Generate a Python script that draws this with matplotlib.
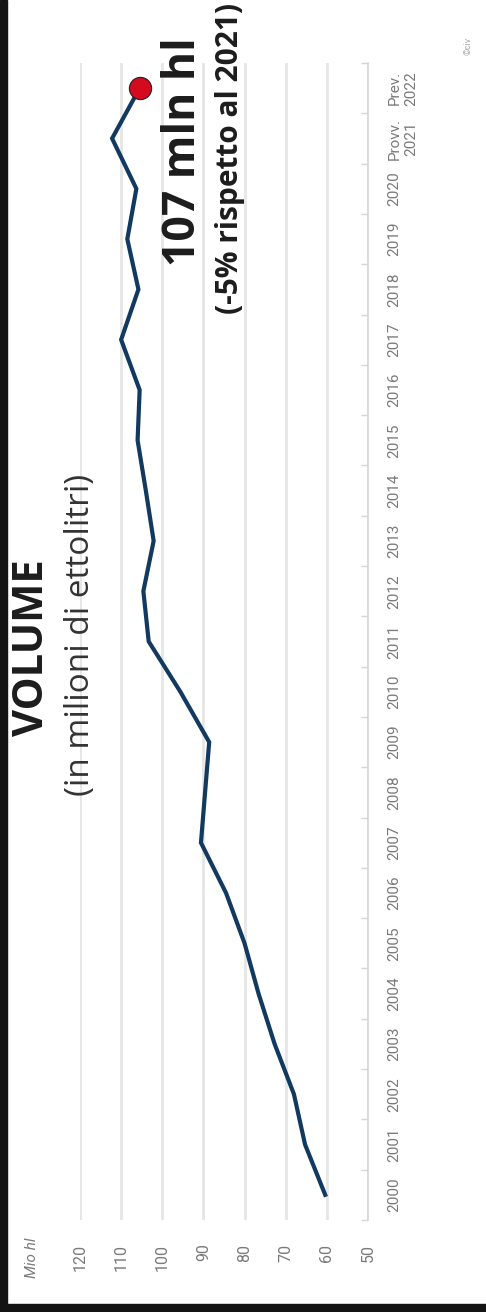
import matplotlib
matplotlib.use('Agg')
import matplotlib.pyplot as plt
from matplotlib.patches import Rectangle

years = ['2000', '2001', '2002', '2003', '2004', '2005', '2006', '2007', '2008',
         '2009', '2010', '2011', '2012', '2013', '2014', '2015', '2016', '2017',
         '2018', '2019', '2020', 'Provv.\n2021', 'Prev.\n2022']
volume = [60.4, 65.3, 68.0, 72.7, 76.6, 80.0, 84.5, 90.6, 89.6, 88.6, 95.6,
          103.3, 104.6, 102.1, 104.0, 106.0, 105.5, 110.0, 105.8, 108.5, 106.3,
          112.2, 105.5]
value_ticks = [120, 110, 100, 90, 80, 70, 60, 50]

W, H = 486, 1312
fig = plt.figure(figsize=(W / 100, H / 100), dpi=100)
fig.patch.set_facecolor('white')

narrow = 'Roboto'
gray = '#7a7a7a'

# chart is drawn turned a quarter turn: values across, years upward
ax = fig.add_axes([80 / W, 1 - 1220 / H, (368 - 80) / W, (1220 - 63) / H])
idx = list(range(len(years)))
ax.plot(volume, idx, color='#12395f', lw=3.0, solid_joinstyle='miter', zorder=3)
ax.plot(volume[-1], idx[-1], 'o', ms=16, color='#d40a1e', mec='#222222', mew=0.8, zorder=4)

ax.set_xlim(120, 50)
ax.set_ylim(-0.5, len(years) - 0.5)
ax.set_xticks(value_ticks)
ax.set_xticklabels([str(v) for v in value_ticks], rotation=90, va='top',
                   fontsize=11.5, family=narrow, color=gray)
ax.tick_params(axis='x', length=0, pad=17)

ax.yaxis.tick_right()
ax.set_yticks(idx)
ax.set_yticklabels(years, rotation=90, va='center', ha='left', fontsize=11,
                   family=narrow, color=gray, multialignment='center',
                   linespacing=1.3)
ax.set_yticks([i - 0.5 for i in range(len(years) + 1)], minor=True)
ax.tick_params(axis='y', which='major', length=0, pad=14)
ax.tick_params(axis='y', which='minor', length=5, width=1, color='#d6d6d6', direction='in')

ax.grid(axis='x', color='#e6e6e6', lw=2)
ax.set_axisbelow(True)
for s in ['left', 'top', 'bottom']:
    ax.spines[s].set_visible(False)
ax.spines['right'].set_color('#d6d6d6')
ax.spines['right'].set_linewidth(1.2)

def px(x, y):
    return x / W, 1 - y / H

dark = '#1c1c1c'
fig.text(*px(33, 648), 'VOLUME', rotation=90, ha='center', va='center',
         fontsize=30, fontweight='bold', family='Open Sans', color=dark)
fig.text(*px(80, 635), '(in milioni di ettolitri)', rotation=90, ha='center',
         va='center', fontsize=24, family='Open Sans', color='#333333')
fig.text(*px(183, 152), '107 mln hl', rotation=90, ha='center', va='center',
         fontsize=32, fontweight='bold', family='Open Sans', color=dark)
fig.text(*px(230, 158), '(-5% rispetto al 2021)', rotation=90, ha='center',
         va='center', fontsize=21.5, fontweight='bold', family='Open Sans', color=dark)
fig.text(*px(32, 1258), 'Mio hl', rotation=90, ha='center', va='center',
         fontsize=11, style='italic', family=narrow, color=gray)
fig.text(*px(468, 46), '©civ', rotation=90, ha='center', va='center',
         fontsize=6.5, family=narrow, color='#aaaaaa')

# dark frame strips at left and bottom
fig.add_artist(Rectangle((0, 0), 7 / W, 1, transform=fig.transFigure,
                         color='#141414', zorder=10))
fig.add_artist(Rectangle((0, 0), 1, 8 / H, transform=fig.transFigure,
                         color='#141414', zorder=10))

fig.savefig('out.png', dpi=100)
